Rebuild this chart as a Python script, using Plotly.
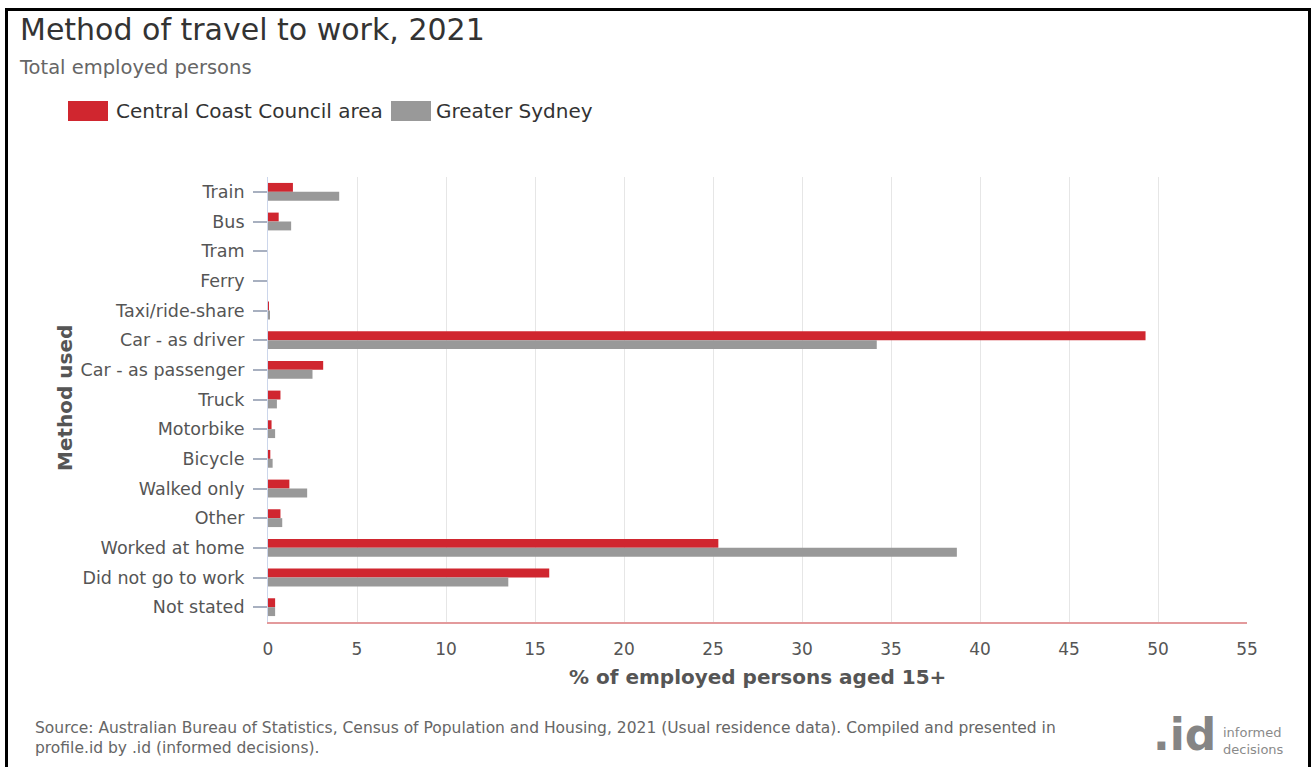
import plotly.graph_objects as go

categories = ["Train", "Bus", "Tram", "Ferry", "Taxi/ride-share", "Car - as driver",
              "Car - as passenger", "Truck", "Motorbike", "Bicycle", "Walked only",
              "Other", "Worked at home", "Did not go to work", "Not stated"]
central_coast = [1.4, 0.6, 0.0, 0.0, 0.02, 49.3, 3.1, 0.7, 0.2, 0.13, 1.2, 0.7, 25.3, 15.8, 0.4]
greater_sydney = [4.0, 1.3, 0.0, 0.0, 0.1, 34.2, 2.5, 0.5, 0.4, 0.26, 2.2, 0.8, 38.7, 13.5, 0.4]
x_ticks = [0, 5, 10, 15, 20, 25, 30, 35, 40, 45, 50, 55]
series_names = ["Central Coast Council area", "Greater Sydney"]
series_colors = ["#d0262f", "#999999"]

W, H = 1311, 767
L, R, T, B = 268, 64, 177, 145
PW, PH = W - L - R, H - T - B
FONT = "DejaVu Sans"

def fx(px):
    return (px - L) / PW

def fy(py):
    return (H - B - py) / PH

fig = go.Figure()
for name, vals, col in zip(series_names, [central_coast, greater_sydney], series_colors):
    fig.add_trace(go.Bar(y=categories, x=vals, name=name, orientation="h",
                         marker=dict(color=col, line=dict(width=0)), showlegend=False))

fig.update_layout(
    width=W, height=H,
    margin=dict(l=L, r=R, t=T, b=B, autoexpand=False),
    paper_bgcolor="white", plot_bgcolor="white",
    barmode="group", bargap=0.4, bargroupgap=0.0,
    font=dict(family=FONT, color="#555555"),
    xaxis=dict(range=[0, 55], tickvals=x_ticks, showgrid=True, gridcolor="#e6e6e6",
               gridwidth=1, zeroline=False, showline=True, linecolor="#e39a9c",
               linewidth=2, ticks="", tickfont=dict(size=17, color="#555555"),
               ticklabelstandoff=11, fixedrange=True),
    yaxis=dict(autorange="reversed", showgrid=False, zeroline=False, showline=True,
               linecolor="#ccd6eb", linewidth=1, ticks="outside", ticklen=14,
               tickcolor="#a8b0c0", tickwidth=2, tickfont=dict(size=17.5, color="#555555"),
               ticklabelstandoff=5, fixedrange=True),
)

ann = []
ann.append(dict(text="Method of travel to work, 2021", x=fx(18), y=fy(30), xref="paper", yref="paper",
                xanchor="left", yanchor="middle", showarrow=False,
                font=dict(family=FONT, size=30, color="#333333")))
ann.append(dict(text="Total employed persons", x=fx(17), y=fy(68), xref="paper", yref="paper",
                xanchor="left", yanchor="middle", showarrow=False,
                font=dict(family=FONT, size=19.5, color="#666666")))
# legend
leg = [(68, 108, 114, series_names[0], series_colors[0]), (391, 431, 434, series_names[1], series_colors[1])]
shapes = []
for x0, x1, tx, name, col in leg:
    shapes.append(dict(type="rect", xref="paper", yref="paper", x0=fx(x0), x1=fx(x1),
                       y0=fy(121), y1=fy(101), fillcolor=col, line=dict(width=0)))
    ann.append(dict(text=name, x=fx(tx), y=fy(111), xref="paper", yref="paper",
                    xanchor="left", yanchor="middle", showarrow=False,
                    font=dict(family=FONT, size=20, color="#333333")))
# axis titles
ann.append(dict(text="<b>Method used</b>", x=fx(65), y=fy(398), xref="paper", yref="paper",
                xanchor="center", yanchor="middle", textangle=-90, showarrow=False,
                font=dict(family=FONT, size=20, color="#555555")))
ann.append(dict(text="<b>% of employed persons aged 15+</b>", x=fx(757), y=fy(677), xref="paper",
                yref="paper", xanchor="center", yanchor="middle", showarrow=False,
                font=dict(family=FONT, size=20, color="#555555")))
# source
ann.append(dict(text="Source: Australian Bureau of Statistics, Census of Population and Housing, 2021 (Usual residence data). Compiled and presented in<br>profile.id by .id (informed decisions).",
                x=fx(33), y=fy(738), xref="paper", yref="paper", xanchor="left", yanchor="middle",
                align="left", showarrow=False, font=dict(family=FONT, size=15.5, color="#666666")))
# logo
ann.append(dict(text="<b>.id</b>", x=fx(1218), y=fy(734), xref="paper", yref="paper",
                xanchor="right", yanchor="middle", showarrow=False,
                font=dict(family=FONT, size=44, color="#858585")))
ann.append(dict(text="informed<br>decisions", x=fx(1221), y=fy(741), xref="paper", yref="paper",
                xanchor="left", yanchor="middle", align="left", showarrow=False,
                font=dict(family=FONT, size=13, color="#8a8a8a")))
# border frame
shapes.append(dict(type="rect", xref="paper", yref="paper", x0=fx(6.5), x1=fx(1309.5),
                   y0=fy(790), y1=fy(9.5), line=dict(color="black", width=3),
                   fillcolor="rgba(0,0,0,0)", layer="above"))
fig.update_layout(annotations=ann, shapes=shapes)

fig.write_html("out.html")
